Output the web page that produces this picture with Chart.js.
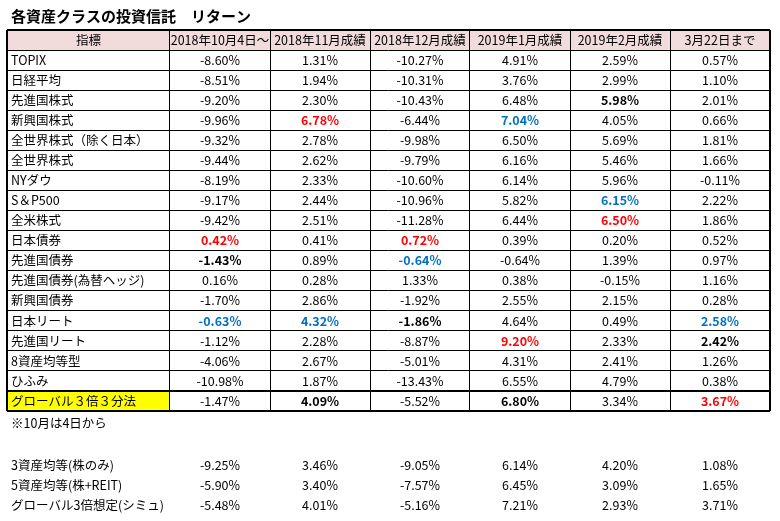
<!DOCTYPE html>
<html>
<head>
<meta charset="utf-8">
<script src="https://cdn.jsdelivr.net/npm/chart.js@4"></script>
<style>
  body { margin: 0; background: #fff; }
</style>
</head>
<body>
<canvas id="myChart" width="780" height="521"></canvas>
<script>
// table data
const title = "各資産クラスの投資信託　リターン";
const headers = ["指標", "2018年10月4日～", "2018年11月成績", "2018年12月成績", "2019年1月成績", "2019年2月成績", "3月22日まで"];
const names = [
  "TOPIX", "日経平均", "先進国株式", "新興国株式", "全世界株式（除く日本）", "全世界株式",
  "NYダウ", "S＆P500", "全米株式", "日本債券", "先進国債券", "先進国債券(為替ヘッジ)",
  "新興国債券", "日本リート", "先進国リート", "8資産均等型", "ひふみ", "グローバル３倍３分法",
];
const oct = [-8.60, -8.51, -9.20, -9.96, -9.32, -9.44, -8.19, -9.17, -9.42, 0.42, -1.43, 0.16, -1.70, -0.63, -1.12, -4.06, -10.98, -1.47];
const nov = [1.31, 1.94, 2.30, 6.78, 2.78, 2.62, 2.33, 2.44, 2.51, 0.41, 0.89, 0.28, 2.86, 4.32, 2.28, 2.67, 1.87, 4.09];
const dec = [-10.27, -10.31, -10.43, -6.44, -9.98, -9.79, -10.60, -10.96, -11.28, 0.72, -0.64, 1.33, -1.92, -1.86, -8.87, -5.01, -13.43, -5.52];
const jan = [4.91, 3.76, 6.48, 7.04, 6.50, 6.16, 6.14, 5.82, 6.44, 0.39, -0.64, 0.38, 2.55, 4.64, 9.20, 4.31, 6.55, 6.80];
const feb = [2.59, 2.99, 5.98, 4.05, 5.69, 5.46, 5.96, 6.15, 6.50, 0.20, 1.39, -0.15, 2.15, 0.49, 2.33, 2.41, 4.79, 3.34];
const mar = [0.57, 1.10, 2.01, 0.66, 1.81, 1.66, -0.11, 2.22, 1.86, 0.52, 0.97, 1.16, 0.28, 2.58, 2.42, 1.26, 0.38, 3.67];
const columns = [oct, nov, dec, jan, feb, mar];

// highlighted rows per column: 1st (red), 2nd (blue), 3rd (bold black)
const firstRow = [9, 3, 9, 14, 8, 17];
const secondRow = [13, 13, 10, 3, 7, 13];
const thirdRow = [10, 17, 13, 17, 2, 14];

const note = "※10月は4日から";
const extraNames = ["3資産均等(株のみ)", "5資産均等(株+REIT)", "グローバル3倍想定(シミュ)"];
const extra3 = [-9.25, 3.46, -9.05, 6.14, 4.20, 1.08];
const extra5 = [-5.90, 3.40, -7.57, 6.45, 3.09, 1.65];
const extraG = [-5.48, 4.01, -5.16, 7.21, 2.93, 3.71];
const extraRows = [extra3, extra5, extraG];

// layout
const colWidths = [1.63, 1, 1, 1, 1, 1, 1];
const colEdges = [0];
colWidths.forEach((w) => colEdges.push(+(colEdges[colEdges.length - 1] + w).toFixed(2)));
const nRows = names.length + 1;
const rowEdges = [];
for (let i = 0; i <= nRows; i++) rowEdges.push(i);
const titleY = -0.7;
const noteY = 19.62;
const extraY = [21.7, 22.7, 23.7];

const FONT = '"Noto Sans CJK JP", "Noto Sans", sans-serif';
const RED = "#ff0000";
const BLUE = "#0070c0";

const fmt = (v) => v.toFixed(2) + "%";

const tablePlugin = {
  id: "tablePlugin",
  beforeDraw(chart) {
    const { ctx, scales } = chart;
    const x = scales.x, y = scales.y;
    ctx.save();
    ctx.fillStyle = "#fff";
    ctx.fillRect(0, 0, chart.width, chart.height);
    // header band
    ctx.fillStyle = "#f2dcdb";
    ctx.fillRect(x.getPixelForValue(0), y.getPixelForValue(0), x.getPixelForValue(colEdges[7]) - x.getPixelForValue(0), y.getPixelForValue(1) - y.getPixelForValue(0));
    // yellow name cell of last row
    ctx.fillStyle = "#ffff00";
    ctx.fillRect(x.getPixelForValue(0), y.getPixelForValue(nRows - 1), x.getPixelForValue(colEdges[1]) - x.getPixelForValue(0), y.getPixelForValue(nRows) - y.getPixelForValue(nRows - 1));
    ctx.restore();
  },
  afterDraw(chart) {
    const { ctx, scales } = chart;
    const x = scales.x, y = scales.y;
    const nameX = x.getPixelForValue(0) + 4;
    const colX = (c) => x.getPixelForValue((colEdges[c] + colEdges[c + 1]) / 2);
    ctx.save();
    ctx.textBaseline = "middle";
    ctx.fillStyle = "#000";
    // title
    ctx.font = "bold 15px " + FONT;
    ctx.textAlign = "left";
    ctx.fillText(title, nameX, y.getPixelForValue(titleY));
    // header
    ctx.font = "12.5px " + FONT;
    ctx.textAlign = "center";
    headers.forEach((h, c) => ctx.fillText(h, colX(c), y.getPixelForValue(0.5)));
    // rows
    names.forEach((n, r) => {
      const py = y.getPixelForValue(r + 1.5);
      ctx.textAlign = "left";
      ctx.fillStyle = "#000";
      ctx.font = "12.5px " + FONT;
      ctx.fillText(n, nameX, py);
      ctx.textAlign = "center";
      columns.forEach((col, c) => {
        let color = "#000", bold = false;
        if (firstRow[c] === r) { color = RED; bold = true; }
        else if (secondRow[c] === r) { color = BLUE; bold = true; }
        else if (thirdRow[c] === r) { bold = true; }
        ctx.fillStyle = color;
        ctx.font = (bold ? "bold " : "") + "12.5px " + FONT;
        ctx.fillText(fmt(col[r]), colX(c + 1), py);
      });
    });
    // note + extra rows
    ctx.fillStyle = "#000";
    ctx.font = "12.5px " + FONT;
    ctx.textAlign = "left";
    ctx.fillText(note, nameX, y.getPixelForValue(noteY));
    extraRows.forEach((vals, i) => {
      const py = y.getPixelForValue(extraY[i]);
      ctx.textAlign = "left";
      ctx.fillText(extraNames[i], nameX, py);
      ctx.textAlign = "center";
      vals.forEach((v, c) => ctx.fillText(fmt(v), colX(c + 1), py));
    });
    ctx.restore();
  },
};

const thickX = [0, colEdges.length - 1];
const thickY = [0, nRows - 1, nRows];

let config = {
  type: "scatter",
  data: { datasets: [{ data: [], showLine: false }] },
  options: {
    responsive: false,
    animation: false,
    events: [],
    layout: { padding: { left: 7, right: 10, top: 30, bottom: 110 } },
    plugins: {
      legend: { display: false },
      tooltip: { enabled: false },
      title: { display: false },
    },
    scales: {
      x: {
        type: "linear",
        min: 0,
        max: colEdges[colEdges.length - 1],
        afterBuildTicks: (s) => { s.ticks = colEdges.map((v) => ({ value: v })); },
        ticks: { display: false },
        border: { display: false },
        grid: {
          color: "#000",
          drawTicks: false,
          lineWidth: (c) => (thickX.includes(c.index) ? 2 : 1),
        },
      },
      y: {
        type: "linear",
        reverse: true,
        min: 0,
        max: nRows,
        afterBuildTicks: (s) => { s.ticks = rowEdges.map((v) => ({ value: v })); },
        ticks: { display: false },
        border: { display: false },
        grid: {
          color: "#000",
          drawTicks: false,
          lineWidth: (c) => (thickY.includes(c.index) ? 2 : 1),
        },
      },
    },
  },
  plugins: [tablePlugin],
};

var myChart = new Chart(document.getElementById("myChart"), config);
</script>
</body>
</html>
